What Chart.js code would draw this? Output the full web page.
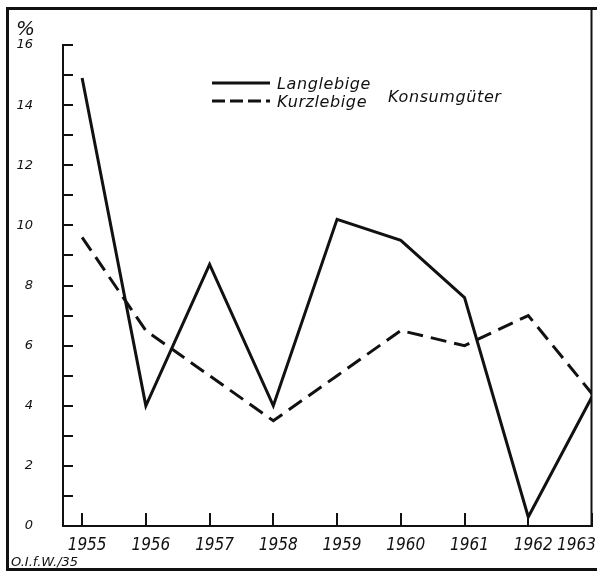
<!DOCTYPE html>
<html>
<head>
<meta charset="utf-8">
<script src="https://cdn.jsdelivr.net/npm/chart.js@4/dist/chart.umd.min.js"></script>
<style>
  html, body { margin: 0; padding: 0; background: #fff; }
  #wrap { width: 600px; height: 574px; position: relative; }
</style>
</head>
<body>
<div id="wrap"><canvas id="c" width="600" height="574"></canvas></div>
<script>
const years = [1955, 1956, 1957, 1958, 1959, 1960, 1961, 1962, 1963];
const langlebige = [14.9, 4.0, 8.7, 4.0, 10.2, 9.5, 7.6, 0.3, 4.3];
const kurzlebige = [9.6, 6.5, 5.0, 3.5, 5.0, 6.5, 6.0, 7.0, 4.4];
const yTickLabels = [0, 2, 4, 6, 8, 10, 12, 14, 16];
const seriesNames = ['Langlebige', 'Kurzlebige'];
const legendSuffix = 'Konsumgüter';
const unitLabel = '%';
const sourceLabel = 'O.I.f.W./35';

const INK = '#111111';
const FONT = '"DejaVu Sans", sans-serif';
const FONT_COND = '"DejaVu Sans Condensed", "DejaVu Sans", sans-serif';

const decor = {
  id: 'decor',
  afterDraw(chart) {
    const ctx = chart.ctx;
    const xs = chart.scales.x, ys = chart.scales.y;
    const area = chart.chartArea;
    ctx.save();
    ctx.strokeStyle = INK;
    ctx.fillStyle = INK;
    ctx.lineCap = 'butt';

    // outer frame (left, top, bottom) and right plot border
    ctx.lineWidth = 3;
    ctx.beginPath();
    ctx.moveTo(7.5, 7); ctx.lineTo(7.5, 571);
    ctx.moveTo(6, 8.5); ctx.lineTo(597, 8.5);
    ctx.moveTo(6, 569.5); ctx.lineTo(597, 569.5);
    ctx.stroke();
    ctx.lineWidth = 2;
    ctx.beginPath();
    ctx.moveTo(area.right - 0.5, 8); ctx.lineTo(area.right - 0.5, area.bottom + 1);
    ctx.stroke();

    // y tick marks (inside, every unit)
    ctx.lineWidth = 2;
    ctx.beginPath();
    for (let v = ys.min; v <= ys.max; v += 1) {
      const py = Math.round(ys.getPixelForValue(v));
      ctx.moveTo(area.left, py); ctx.lineTo(area.left + 10, py);
    }
    ctx.stroke();

    // x tick marks (inside, upward)
    ctx.beginPath();
    years.forEach(yr => {
      const px = Math.round(xs.getPixelForValue(yr));
      ctx.moveTo(px, area.bottom); ctx.lineTo(px, area.bottom - 13);
    });
    ctx.stroke();

    // x labels
    ctx.font = 'italic 17px ' + FONT_COND;
    ctx.textAlign = 'center';
    ctx.textBaseline = 'alphabetic';
    years.forEach(yr => {
      let px = xs.getPixelForValue(yr) + 5;
      const w = ctx.measureText(String(yr)).width;
      if (px + w / 2 > 596) px = 596 - w / 2;
      ctx.fillText(String(yr), px, 550);
    });

    // unit label
    ctx.font = 'italic 20px ' + FONT;
    ctx.textAlign = 'left';
    ctx.fillText(unitLabel, 16, 35);

    // source label
    ctx.font = 'italic 13px ' + FONT;
    ctx.fillText(sourceLabel, 11, 566);

    // legend
    const ds = chart.data.datasets;
    const lx0 = 212, lx1 = 270;
    const rows = [83, 101];
    ds.forEach((d, i) => {
      ctx.lineWidth = 3;
      ctx.setLineDash(i === 0 ? [] : [13, 5]);
      ctx.beginPath();
      ctx.moveTo(lx0, rows[i]); ctx.lineTo(lx1, rows[i]);
      ctx.stroke();
    });
    ctx.setLineDash([]);
    ctx.font = 'italic 16px ' + FONT;
    try { ctx.letterSpacing = '0.6px'; } catch (e) {}
    ctx.fillText(seriesNames[0], 277, 89);
    ctx.fillText(seriesNames[1], 277, 107);
    ctx.fillText(legendSuffix, 388, 102);
    try { ctx.letterSpacing = '0px'; } catch (e) {}
    ctx.restore();
  }
};

new Chart(document.getElementById('c'), {
  type: 'line',
  data: {
    datasets: [
      {
        label: seriesNames[0],
        data: years.map((y, i) => ({ x: y, y: langlebige[i] })),
        borderColor: INK, borderWidth: 3, pointRadius: 0, tension: 0, fill: false
      },
      {
        label: seriesNames[1],
        data: years.map((y, i) => ({ x: y, y: kurzlebige[i] })),
        borderColor: INK, borderWidth: 3, borderDash: [16, 8], pointRadius: 0, tension: 0, fill: false
      }
    ]
  },
  options: {
    responsive: false,
    animation: false,
    layout: { padding: { top: 45, right: 8, bottom: 0, left: 0 } },
    plugins: { legend: { display: false }, tooltip: { enabled: false } },
    scales: {
      x: {
        type: 'linear',
        min: 1954.7, max: 1963,
        grid: { display: false, drawTicks: false },
        border: { display: true, color: INK, width: 2 },
        ticks: { display: false, stepSize: 1, includeBounds: false },
        afterFit(s) { s.height = 48; s.paddingLeft = 0; s.paddingRight = 0; }
      },
      y: {
        min: 0, max: 16,
        grid: { display: false, drawTicks: false },
        border: { display: true, color: INK, width: 2 },
        ticks: {
          stepSize: 1,
          padding: 30,
          color: INK,
          font: { family: FONT, style: 'italic', size: 13 },
          callback: (v) => yTickLabels.includes(v) ? String(v) : ''
        },
        afterFit(s) { s.width = 63; s.paddingTop = 0; s.paddingBottom = 0; }
      }
    }
  },
  plugins: [decor]
});
</script>
</body>
</html>
